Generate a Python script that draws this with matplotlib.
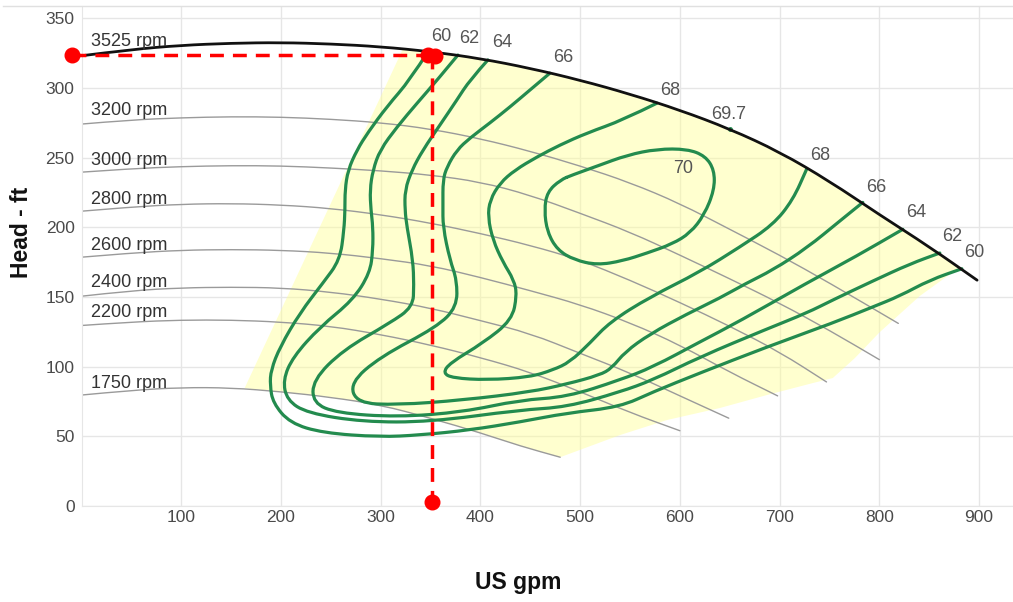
import matplotlib
matplotlib.use("Agg")
import matplotlib.pyplot as plt
from matplotlib.lines import Line2D
from matplotlib.path import Path
from matplotlib.patches import PathPatch

plt.rcParams['font.family'] = ['Liberation Sans', 'DejaVu Sans']

# ---------------- data ----------------
x_ticks = [100, 200, 300, 400, 500, 600, 700, 800, 900]
y_ticks = [0, 50, 100, 150, 200, 250, 300, 350]

# max speed curve (3525 rpm)
q_3525 = [0, 50, 100, 150, 200, 250, 300, 350, 400, 450, 500, 550, 600, 650, 700, 750, 800, 850, 898]
h_3525 = [323, 327.5, 330.5, 332, 332.5, 331.5, 329.5, 326, 321, 314, 305.5, 295.5, 284, 270.5, 254, 233, 209, 186, 162]

# reduced speed curves
q_3200 = [0, 50, 100, 150, 200, 250, 300, 350, 400, 450, 500, 550, 600, 650, 700, 750, 819]
h_3200 = [274, 277, 278.5, 279.3, 279, 277.5, 275, 270.5, 263.5, 254.5, 244, 232, 217, 198.5, 180, 160, 131]
q_3000 = [0, 50, 100, 150, 200, 250, 300, 350, 400, 450, 500, 550, 600, 650, 700, 750, 800]
h_3000 = [239.5, 242, 243.5, 244.2, 244, 242.5, 240.5, 237.5, 232.5, 223, 210, 196.5, 180, 163, 145.5, 126, 105]
q_2800 = [0, 50, 100, 150, 200, 250, 300, 350, 400, 450, 500, 550, 600, 650, 700, 747]
h_2800 = [211.5, 214.5, 216.5, 217, 216, 213.5, 209, 203, 195.5, 187, 176.5, 162, 146, 129, 110.5, 89]
q_2600 = [0, 50, 100, 150, 200, 250, 300, 350, 400, 450, 500, 550, 600, 650, 698]
h_2600 = [178.5, 181.5, 183.5, 184, 183.5, 181.5, 177.5, 172.5, 164, 154.5, 144.5, 131.5, 115.5, 96, 79]
q_2400 = [0, 50, 100, 150, 200, 250, 300, 350, 400, 450, 500, 550, 600, 649]
h_2400 = [150.5, 154.5, 156.5, 157, 156.5, 153.5, 148.5, 142, 133, 123.8, 109.5, 95.5, 79, 63]
q_2200 = [0, 50, 100, 150, 200, 250, 300, 350, 400, 450, 500, 550, 600]
h_2200 = [129.5, 132, 133.4, 133.4, 132, 129, 123, 115.5, 106.5, 96, 82, 67, 54]
q_1750 = [0, 50, 100, 150, 200, 250, 300, 350, 400, 440, 480]
h_1750 = [79.6, 83, 85, 84.8, 82, 78, 72.5, 63, 52.5, 43, 35]

speed_labels = ['3525 rpm', '3200 rpm', '3000 rpm', '2800 rpm', '2600 rpm', '2400 rpm', '2200 rpm', '1750 rpm']
speed_label_h = [333.5, 283.5, 248.2, 220.2, 187.2, 160.2, 138.5, 88.2]

# efficiency contours (%)
eff_60_q = [347.5, 329.3, 306.3, 287.2, 276.2, 267.2, 264.2, 264.2, 263.2, 259.1, 242.1, 219.0, 199.0, 190.0, 189.0, 192.0, 209.0, 242.1, 299.2, 339.3, 389.4, 439.6, 486.7, 539.8, 572.9, 620.0, 687.2, 753.3, 793.4, 820.5, 850.6, 882.7]
eff_60_h = [326.0, 305.6, 286.6, 268.0, 255.4, 241.0, 226.7, 212.4, 198.0, 176.5, 160.0, 138.5, 114.1, 97.6, 86.8, 73.9, 59.5, 52.4, 49.5, 50.9, 54.5, 60.3, 66.7, 71.0, 81.8, 95.4, 114.1, 131.3, 142.8, 150.7, 162.1, 170.2]
eff_62_q = [377.4, 356.7, 336.6, 316.3, 299.3, 292.2, 289.2, 290.2, 292.2, 292.2, 289.2, 272.2, 239.1, 212.0, 202.0, 206.0, 226.1, 282.2, 349.4, 439.6, 486.7, 539.8, 572.9, 620.0, 687.2, 727.3, 753.3, 793.4, 830.5, 860.6]
eff_62_h = [323.5, 305.6, 289.1, 271.9, 255.4, 241.0, 226.7, 212.4, 200.2, 183.7, 167.2, 147.8, 128.4, 106.9, 90.4, 76.0, 66.7, 60.3, 60.3, 68.9, 71.0, 81.8, 90.4, 106.9, 127.0, 138.5, 147.8, 161.4, 173.6, 181.5]
eff_64_q = [407.5, 389.4, 376.4, 359.4, 342.3, 331.3, 324.3, 324.3, 326.3, 332.3, 333.3, 332.3, 309.3, 262.2, 232.1, 232.1, 256.1, 316.3, 382.4, 439.6, 486.7, 539.8, 572.9, 620.0, 660.1, 727.3, 777.4, 823.5]
eff_64_h = [320.0, 305.6, 291.3, 273.3, 255.4, 241.0, 226.7, 212.4, 200.2, 176.5, 158.6, 142.8, 131.3, 111.9, 90.4, 73.9, 66.7, 63.8, 67.4, 76.0, 78.2, 90.4, 99.7, 117.7, 132.7, 160.0, 179.4, 198.5]
eff_66_q = [469.6, 449.6, 429.5, 409.5, 389.5, 376.4, 366.4, 362.4, 362.4, 362.4, 369.4, 376.4, 376.4, 356.3, 299.2, 269.2, 276.2, 316.3, 382.4, 449.6, 486.7, 519.8, 531.8, 544.9, 570.0, 607.0, 640.1, 665.2, 693.2, 727.3, 760.4, 783.4]
eff_66_h = [310.5, 298.4, 286.2, 274.8, 264.0, 255.4, 243.2, 233.9, 215.9, 200.2, 176.5, 162.1, 142.8, 128.4, 106.9, 88.2, 73.9, 72.5, 76.0, 81.8, 87.5, 94.0, 99.0, 110.5, 123.4, 137.7, 149.2, 159.3, 169.3, 185.1, 204.5, 217.8]
eff_68_q = [577.0, 542.9, 506.8, 479.7, 456.6, 434.6, 419.6, 409.5, 407.5, 412.5, 422.5, 433.6, 436.6, 431.6, 402.5, 369.4, 362.4, 372.4, 406.5, 449.6, 472.7, 489.7, 509.8, 529.8, 569.9, 620.0, 660.1, 693.2, 713.3, 727.3]
eff_68_h = [289.0, 276.9, 267.6, 259.0, 250.4, 241.0, 231.7, 219.5, 207.3, 190.8, 175.0, 162.1, 151.4, 133.4, 116.9, 102.6, 95.4, 91.8, 90.4, 92.5, 97.6, 103.3, 116.9, 132.0, 149.9, 167.9, 185.8, 201.6, 219.5, 242.0]
eff_70_q = [480.1, 467.0, 464.0, 467.0, 477.1, 494.2, 517.2, 542.3, 567.3, 592.4, 610.4, 624.4, 634.5, 634.5, 625.5, 607.4, 577.3, 547.3, 517.2, 492.2, 480.1]
eff_70_h = [233.9, 225.3, 212.4, 196.6, 183.7, 176.5, 172.9, 175.8, 181.5, 188.0, 195.9, 208.8, 226.7, 241.0, 251.1, 256.1, 256.1, 251.8, 243.9, 237.5, 233.9]
bep_q, bep_h = 650.0, 270.5   # 69.7 %

eff_labels = ['60', '62', '64', '66', '68', '69.7', '70', '68', '66', '64', '62', '60']
eff_label_q = [360.4, 388.5, 421.6, 482.7, 590.0, 649.2, 603.0, 740.3, 796.4, 836.5, 872.6, 895.6]
eff_label_h = [336.5, 335.7, 332.2, 322.1, 298.4, 281.2, 241.8, 251.8, 228.8, 210.2, 193.0, 182.2]

# allowable operating region boundary (right / lower edge)
region_right_q = [880.0, 840.6, 800.5, 775.4, 753.3, 733.3, 687.2, 640.1, 587.2, 540.0, 480.0]
region_right_h = [171.0, 150.7, 124.8, 106.1, 91.8, 88.2, 79.6, 70.3, 61.7, 50.9, 35.0]
region_left_q = [163.5, 322.0]
region_left_h = [84.5, 327.5]

# duty point
duty_q, duty_h = 351, 323.5


def smooth_path(q, h, closed=False):
    """Quadratic Bezier path using the read points as control points."""
    pts = list(zip(q, h))
    if closed:
        pts = pts[:-1]
        n = len(pts)
        mids = [((pts[i][0] + pts[(i + 1) % n][0]) / 2, (pts[i][1] + pts[(i + 1) % n][1]) / 2)
                for i in range(n)]
        verts, codes = [mids[-1]], [Path.MOVETO]
        for i in range(n):
            verts += [pts[i], mids[i]]
            codes += [Path.CURVE3, Path.CURVE3]
        return Path(verts, codes)
    verts, codes = [pts[0]], [Path.MOVETO]
    for i in range(1, len(pts) - 1):
        mid = ((pts[i][0] + pts[i + 1][0]) / 2, (pts[i][1] + pts[i + 1][1]) / 2)
        verts += [pts[i], mid]
        codes += [Path.CURVE3, Path.CURVE3]
    verts.append(pts[-1])
    codes.append(Path.LINETO)
    return Path(verts, codes)


def draw_curve(ax, q, h, closed=False, **kw):
    patch = PathPatch(smooth_path(q, h, closed), fill=False, capstyle='round',
                      joinstyle='round', **kw)
    ax.add_patch(patch)


# ---------------- figure ----------------
W, H = 1013, 602
fig = plt.figure(figsize=(W / 100, H / 100), dpi=100)
ax_left, ax_bottom = 81.5 / W, (H - 506) / H
ax = fig.add_axes([ax_left, ax_bottom, 1 - ax_left, (506 - 6) / H])
ax.set_xlim(0, 934)
ax.set_ylim(0, 358.7)

ax.set_xticks(x_ticks)
ax.set_yticks(y_ticks)
ax.tick_params(length=0, labelsize=12.5, labelcolor='#4a4a4a')
ax.tick_params(axis='x', pad=3)
ax.tick_params(axis='y', pad=5)
ax.grid(True, color='#e6e6e6', lw=1.0, zorder=0)
ax.set_axisbelow(True)
for s in ['right', 'top']:
    ax.spines[s].set_visible(False)
ax.spines['left'].set_color('#e6e6e6')
ax.spines['bottom'].set_color('#e6e6e6')

# operating region polygon
top_q = [q for q in q_3525 if region_left_q[-1] < q < region_right_q[0]]
top_h = [h for q, h in zip(q_3525, h_3525) if region_left_q[-1] < q < region_right_q[0]]
bot_q = [q for q in q_1750 if region_left_q[0] < q < region_right_q[-1]][::-1]
bot_h = [h for q, h in zip(q_1750, h_1750) if region_left_q[0] < q < region_right_q[-1]][::-1]
poly_q = region_left_q + top_q + region_right_q + bot_q
poly_h = region_left_h + top_h + region_right_h + bot_h
ax.fill(poly_q, poly_h, color='#ffff99', alpha=0.47, lw=0, zorder=1)

# speed curves
speeds = [(q_3200, h_3200), (q_3000, h_3000), (q_2800, h_2800), (q_2600, h_2600),
          (q_2400, h_2400), (q_2200, h_2200), (q_1750, h_1750)]
for q, h in speeds:
    draw_curve(ax, q, h, edgecolor='#9a9a9a', lw=1.0, zorder=2)
draw_curve(ax, q_3525, h_3525, edgecolor='#111111', lw=2.0, zorder=5)

for lab, yy in zip(speed_labels, speed_label_h):
    ax.text(9.5, yy, lab, fontsize=13, color='#333333', ha='left', va='center', zorder=6)

# efficiency contours
green = '#238b4e'
for q, h in [(eff_60_q, eff_60_h), (eff_62_q, eff_62_h), (eff_64_q, eff_64_h),
             (eff_66_q, eff_66_h), (eff_68_q, eff_68_h)]:
    draw_curve(ax, q, h, edgecolor=green, lw=2.3, zorder=4)
draw_curve(ax, eff_70_q, eff_70_h, closed=True, edgecolor=green, lw=2.3, zorder=4)
ax.plot([bep_q], [bep_h], marker='o', ms=2.5, color=green, zorder=4)

for lab, xx, yy in zip(eff_labels, eff_label_q, eff_label_h):
    ax.text(xx, yy, lab, fontsize=13, color='#555555', ha='center', va='center', zorder=6)

# duty point with dashed guides
red = '#ff0000'
ax.plot([-9.5, duty_q], [duty_h, duty_h], color=red, lw=2.5, dashes=(4, 2.6), zorder=7, clip_on=False)
ax.plot([duty_q, duty_q], [duty_h, 3], color=red, lw=2.5, dashes=(4, 2.6), zorder=7, clip_on=False)
ax.plot([-9.5], [duty_h], marker='o', ms=10.5, color=red, zorder=8, clip_on=False)
ax.plot([duty_q - 4, duty_q + 3], [duty_h, duty_h - 0.5], marker='o', ms=10.5, lw=0, color=red, zorder=8, clip_on=False)
ax.plot([duty_q], [3], marker='o', ms=10.5, color=red, zorder=8, clip_on=False)

# axis titles
fig.text(22 / W, 1 - 232 / H, 'Head - ft', rotation=90, fontsize=16.5, fontweight='bold',
         ha='center', va='center', color='#111111')
fig.text(518 / W, 1 - 582 / H, 'US gpm', fontsize=16.5, fontweight='bold',
         ha='center', va='center', color='#111111')

# top border line
fig.add_artist(Line2D([3 / W, 1], [1 - 6 / H, 1 - 6 / H], color='#e0e0e0', lw=1.0))

fig.savefig('out.png', dpi=100)
